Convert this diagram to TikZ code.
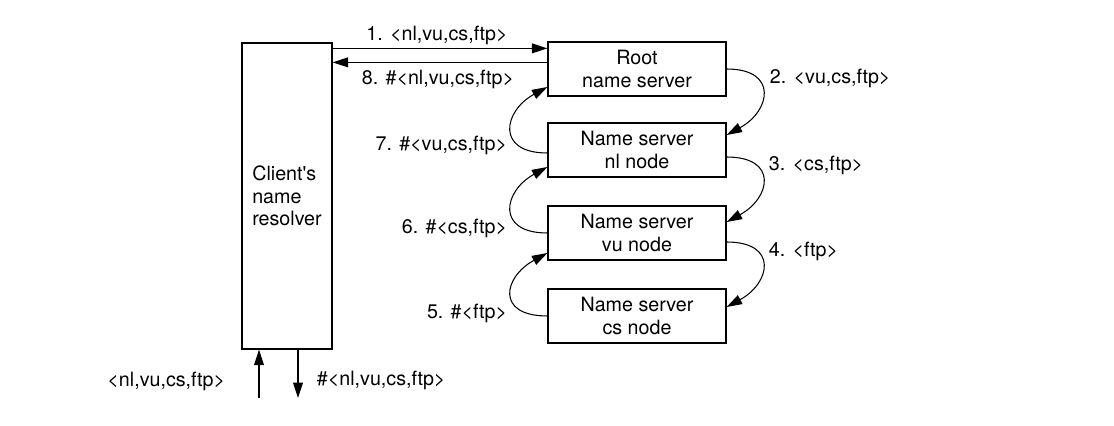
\documentclass[tikz,border=0pt]{standalone}
\usepackage{fontspec}
\setmainfont{TeX Gyre Heros}
\usetikzlibrary{arrows.meta}

\begin{document}
\begin{tikzpicture}[
                server/.style={draw, line width=0.9pt, minimum width=4.45cm, minimum height=1.35cm, align=center, inner sep=2pt},
                resolver/.style={draw, line width=0.9pt, minimum width=2.25cm, minimum height=7.65cm, align=left},
                arr/.style={line width=0.75pt, -{Triangle[length=11pt, width=7pt]}},
                font=\fontsize{14}{16}\selectfont
            ]

                \useasboundingbox (0,0) rectangle (27.85,10.65);

                % The client's resolver on the left
                \node[resolver] (client) at (7.175,5.75) {Client\textquotesingle s\\name\\resolver};

                % The chain of name servers
                \node[server] (root) at (15.925,8.925) {Root\\name server};
                \node[server] (nl) at (15.925,6.9) {Name server\\nl node};
                \node[server] (vu) at (15.925,4.825) {Name server\\vu node};
                \node[server] (cs) at (15.925,2.75) {Name server\\cs node};

                % Request and answer between resolver and root
                \coordinate (r1) at ([yshift=-0.175cm]root.north west);
                \coordinate (r8) at ([yshift=-0.525cm]root.north west);
                \draw[arr] (client.east |- r1) -- (r1);
                \draw[arr] (r8) -- (client.east |- r8);
                \node at (10.925,9.775) {1. <nl,vu,cs,ftp>};
                \node at (10.95,8.675) {8. \#<nl,vu,cs,ftp>};

                % Requests going down on the right
                \draw[arr] (root.east) .. controls +(1.3,0) and +(1.1,0.6) .. ([yshift=0.375cm]nl.east);
                \draw[arr] ([yshift=-0.175cm]nl.east) .. controls +(1.3,0) and +(1.1,0.6) .. ([yshift=0.275cm]vu.east);
                \draw[arr] ([yshift=-0.225cm]vu.east) .. controls +(1.3,0) and +(1.1,0.6) .. ([yshift=0.225cm]cs.east);
                \node[anchor=west] at (19.125,8.7) {2. <vu,cs,ftp>};
                \node[anchor=west] at (19.1,6.525) {3. <cs,ftp>};
                \node[anchor=west] at (19.1,4.375) {4. <ftp>};

                % Answers going up on the left
                \draw[arr] ([yshift=-0.075cm]nl.west) .. controls +(-1.3,0) and +(-1.1,-0.6) .. ([yshift=-0.45cm]root.west);
                \draw[arr] (vu.west) .. controls +(-1.3,0) and +(-1.1,-0.6) .. ([yshift=-0.425cm]nl.west);
                \draw[arr] (cs.west) .. controls +(-1.3,0) and +(-1.1,-0.6) .. ([yshift=-0.5cm]vu.west);
                \node[anchor=east] at (12.8,7.025) {7. \#<vu,cs,ftp>};
                \node[anchor=east] at (12.8,4.95) {6. \#<cs,ftp>};
                \node[anchor=east] at (12.8,2.825) {5. \#<ftp>};

                % Query in and answer out below the resolver
                \coordinate (qin) at (6.475,0.7);
                \coordinate (qout) at (7.45,0.7);
                \draw[arr] (qin) -- (qin |- client.south);
                \draw[arr] (qout |- client.south) -- (qout);
                \node[anchor=east] at (5.75,1.125) {<nl,vu,cs,ftp>};
                \node[anchor=west] at (7.8,1.15) {\#<nl,vu,cs,ftp>};

            \end{tikzpicture}
\end{document}
